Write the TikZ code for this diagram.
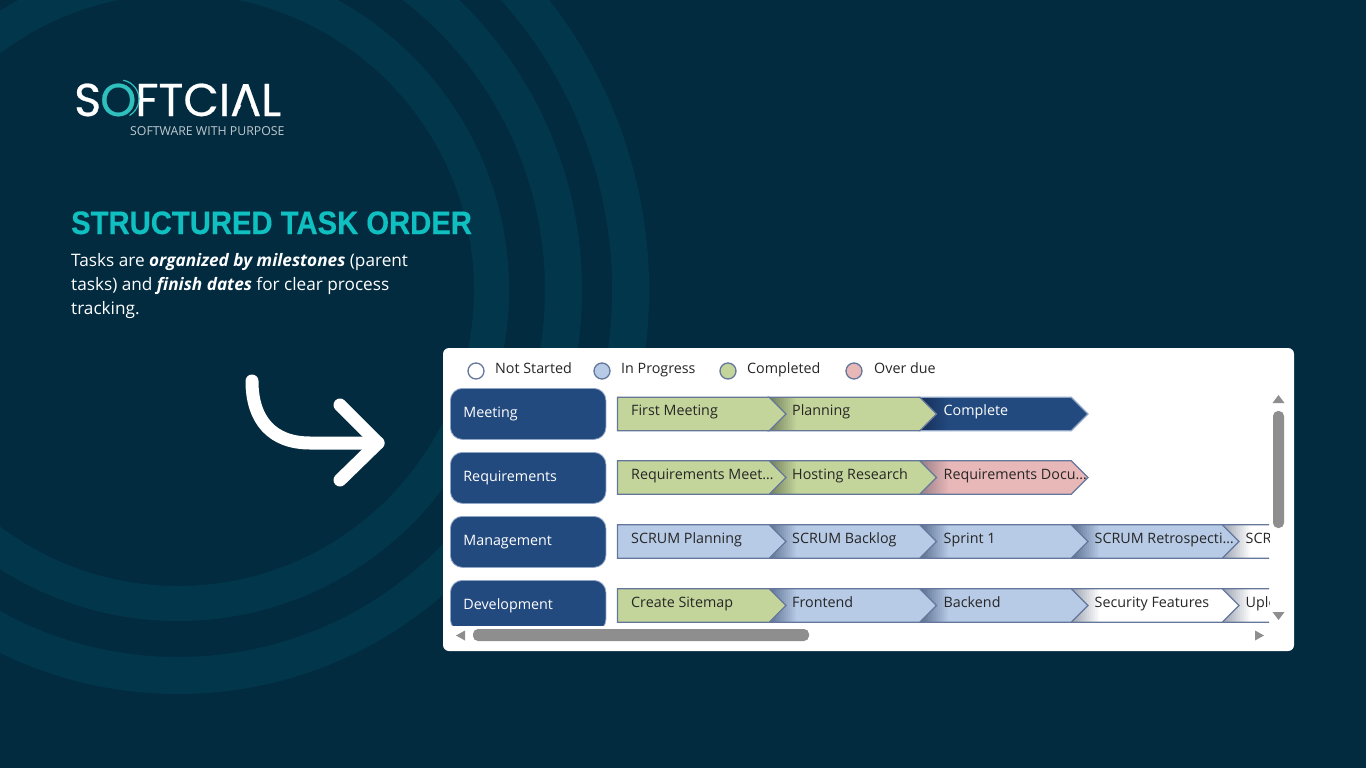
\documentclass[tikz,border=0pt]{standalone}
\usepackage{fontspec}
\setmainfont{Open Sans}
\newfontfamily\titlefont[BoldFeatures={FakeBold=0.4}]{Liberation Sans}
\newfontfamily\logofont[FakeBold=0.5]{Poppins}
\usetikzlibrary{
  positioning,
  shapes.symbols
}
\definecolor{pagebg}{HTML}{022B40}
\definecolor{ringbg}{HTML}{02364A}
\definecolor{brandteal}{HTML}{10C0C0}
\definecolor{logoteal}{HTML}{2FC0BE}
\definecolor{labelnavy}{HTML}{234A7F}
\definecolor{labelline}{HTML}{8FA5C6}
\definecolor{taskline}{HTML}{64779B}
\definecolor{taskgreen}{HTML}{C4D59B}
\definecolor{taskgreendark}{HTML}{6E7D5A}
\definecolor{taskblue}{HTML}{B7CAE6}
\definecolor{taskbluedark}{HTML}{5A6F90}
\definecolor{taskpink}{HTML}{E8B7B7}
\definecolor{taskpinkdark}{HTML}{9A7F88}
\definecolor{tasknavydark}{HTML}{17305A}
\definecolor{taskwhitedark}{HTML}{9AA2B0}
\definecolor{scrollgrey}{HTML}{8E8E8E}

\begin{document}
\begin{tikzpicture}[
      x=1pt,y=-1pt,
      ring/.style={ringbg,line width=#1},
      milestone/.style={
         rectangle,
         rounded corners=12pt,
         minimum width=155.5pt,
         minimum height=51pt,
         inner xsep=13pt,
         text width=129.5pt,
         align=left,
         draw=labelline,
         line width=0.8pt,
         fill=labelnavy,
         text=white,
         text height=10pt,
         text depth=3pt,
         font=\fontsize{14.3}{16}\selectfont,
         anchor=north west
      },
      task/.style 2 args={
         signal,
         signal to=east,
         minimum width=168.5pt,
         minimum height=33.5pt,
         inner sep=0pt,
         outer sep=0pt,
         anchor=west,
         draw=taskline,
         line width=1.3pt,
         fill=#1,
         path picture={
            \foreach \i [evaluate=\i as \pct using \i*100/14] in {0,...,14}
               \fill[#1!\pct!#2]
                  ([xshift=2*\i]path picture bounding box.south west) rectangle
                  ([xshift=2*\i+3]path picture bounding box.north west);
         }
      },
      tasktext/.style={
         inner sep=0pt,
         text height=10pt,
         text depth=3pt,
         yshift=2pt,
         text=black!85,
         font=\fontsize{14.3}{16}\selectfont
      },
      legenddot/.style={
         circle,
         minimum size=16pt,
         inner sep=0pt,
         draw=taskline,
         line width=1.3pt
      },
      legendtext/.style={
         inner sep=0pt,
         anchor=base west,
         text=black!85,
         font=\fontsize{14.3}{16}\selectfont
      },
      scrollbtn/.style={fill=scrollgrey},
      scrollbar/.style={fill=scrollgrey,rounded corners=5pt}
    ]
    \useasboundingbox (0,0) rectangle (1366,768);
    \fill[pagebg] (0,0) rectangle (1366,768);

    % rings behind everything
    \begin{scope}
      \clip (0,0) rectangle (1366,768);
      \draw[ring=35pt] (178,290) circle[radius=313.5];
      \draw[ring=37pt] (178,290) circle[radius=385.5];
      \draw[ring=37pt] (178,290) ++(-70:452.5) arc[start angle=-70,end angle=20,radius=452.5];
    \end{scope}

    % logo
    \node (logo) [inner sep=0pt,anchor=base west,text=white,text height=33pt,text depth=0pt,
        font=\logofont\fontsize{46}{46}\selectfont] at (74,116)
        {S\kern-1pt\textcolor{logoteal}{O}\kern-1ptFTCIAL};
    \fill[pagebg] (242,103.5) -- (250,103.5) -- (253,110.5) -- (239,110.5) -- cycle;
    \draw[logoteal,line width=1.2pt] (120,99) ++(-80:19) arc[start angle=-80,end angle=60,radius=19];
    \node (tagline) [inner sep=0pt,anchor=base west,text=white!75!pagebg,
        font=\fontsize{12.3}{14}\selectfont] at (130,135) {SOFTWARE WITH PURPOSE};

    \node (title) [inner sep=0pt,anchor=base west,text=brandteal,xscale=0.9,
        font=\titlefont\bfseries\fontsize{32.5}{36}\selectfont] at (71,234) {STRUCTURED TASK ORDER};
    \node (body) [inner sep=0pt,anchor=north west,align=left,text=white,
        font=\fontsize{17.2}{24}\selectfont] at (71,253.5)
        {Tasks are \textbf{\textit{organized by milestones}} (parent\\
         tasks) and \textbf{\textit{finish dates}} for clear process\\
         tracking.};

    % arrow
    \draw[white,line width=13pt,line cap=round,line join=round]
        (252,381) .. controls (252,420) and (272,443) .. (310,443) -- (378,443);
    \draw[white,line width=13pt,line cap=round,line join=round]
        (340,405) -- (378,443) -- (340,480);

    % panel
    \fill[white,rounded corners=6pt] (443,348) rectangle (1294,651);

    % legend
    \node (d1) [legenddot,fill=white] at (476,371) {};
    \node (t1) [legendtext] at (495,373.5) {Not Started};
    \node (d2) [legenddot,fill=taskblue] at (602,371) {};
    \node (t2) [legendtext] at (621,373.5) {In Progress};
    \node (d3) [legenddot,fill=taskgreen] at (728,371) {};
    \node (t3) [legendtext] at (747,373.5) {Completed};
    \node (d4) [legenddot,fill=taskpink] at (854,371) {};
    \node (t4) [legendtext] at (874,373.5) {Over due};

    % milestones
    \begin{scope}
      \clip (445,380) rectangle (612,625);
      \node (n10) [milestone] at (450,388) {Meeting};
      \node (n20) [milestone] at (450,452) {Requirements};
      \node (n30) [milestone] at (450,516) {Management};
      \node (n40) [milestone] at (450,580) {Development};
    \end{scope}

    \begin{scope}
      \clip (612,390) rectangle (1269,630);
      % drawn from the right so that each tip lies on the next task
      \node (n13) [task={labelnavy}{tasknavydark},draw=labelline] at (919.5,414) {};
      \node (n12) [task={taskgreen}{taskgreendark}] at (768,414) {};
      \node (n11) [task={taskgreen}{taskgreen}] at (617.5,414) {};

      \node (n23) [task={taskpink}{taskpinkdark}] at (919.5,477.5) {};
      \node (n22) [task={taskgreen}{taskgreendark}] at (768,477.5) {};
      \node (n21) [task={taskgreen}{taskgreen}] at (617.5,477.5) {};

      \node (n35) [task={white}{taskwhitedark}] at (1221.5,541.5) {};
      \node (n34) [task={taskblue}{taskbluedark}] at (1070.5,541.5) {};
      \node (n33) [task={taskblue}{taskbluedark}] at (919.5,541.5) {};
      \node (n32) [task={taskblue}{taskbluedark}] at (768,541.5) {};
      \node (n31) [task={taskblue}{taskblue}] at (617.5,541.5) {};

      \node (n45) [task={white}{taskwhitedark}] at (1221.5,605.5) {};
      \node (n44) [task={white}{taskwhitedark}] at (1070.5,605.5) {};
      \node (n43) [task={taskblue}{taskbluedark}] at (919.5,605.5) {};
      \node (n42) [task={taskblue}{taskbluedark}] at (768,605.5) {};
      \node (n41) [task={taskgreen}{taskgreen}] at (617.5,605.5) {};

      \node (l11) [tasktext,right=13.5pt of n11.west] {First Meeting};
      \node (l12) [tasktext,right=24pt of n12.west] {Planning};
      \node (l13) [tasktext,right=24pt of n13.west,text=white] {Complete};

      \node (l21) [tasktext,right=13.5pt of n21.west] {Requirements Meet…};
      \node (l22) [tasktext,right=24pt of n22.west] {Hosting Research};
      \node (l23) [tasktext,right=24pt of n23.west] {Requirements Docu…};

      \node (l31) [tasktext,right=13.5pt of n31.west] {SCRUM Planning};
      \node (l32) [tasktext,right=24pt of n32.west] {SCRUM Backlog};
      \node (l33) [tasktext,right=24pt of n33.west] {Sprint 1};
      \node (l34) [tasktext,right=24pt of n34.west] {SCRUM Retrospecti…};
      \node (l35) [tasktext,right=24pt of n35.west] {SCRUM};

      \node (l41) [tasktext,right=13.5pt of n41.west] {Create Sitemap};
      \node (l42) [tasktext,right=24pt of n42.west] {Frontend};
      \node (l43) [tasktext,right=24pt of n43.west] {Backend};
      \node (l44) [tasktext,right=24pt of n44.west] {Security Features};
      \node (l45) [tasktext,right=24pt of n45.west] {Upload};
    \end{scope}

    % scroll bars
    \fill[scrollbar] (1273,411) rectangle (1284,528);
    \fill[scrollbtn] (1272.5,403) -- (1278.5,395) -- (1284.5,403) -- cycle;
    \fill[scrollbtn] (1272.5,612) -- (1278.5,620) -- (1284.5,612) -- cycle;
    \fill[scrollbar] (473,629) rectangle (809,641);
    \fill[scrollbtn] (465,630.5) -- (456,635.5) -- (465,640.5) -- cycle;
    \fill[scrollbtn] (1255,630.5) -- (1264,635.5) -- (1255,640.5) -- cycle;
\end{tikzpicture}
\end{document}
